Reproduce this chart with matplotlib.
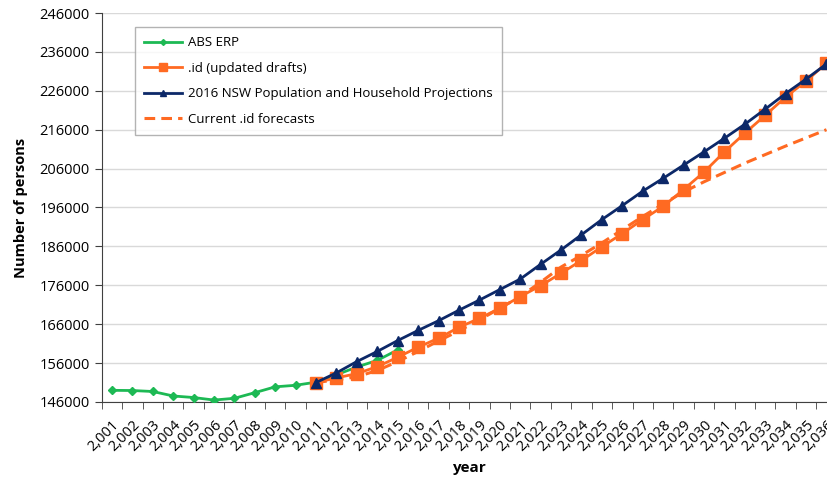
import numpy as np
import matplotlib
matplotlib.use('Agg')
import matplotlib.pyplot as plt
from matplotlib.ticker import FixedLocator

plt.rcParams['font.family'] = ['Open Sans', 'DejaVu Sans']

# Data
years = list(range(2001, 2037))
year_labels = ['{:,}'.format(y) for y in years]

abs_erp = [149000, 148950, 148700, 147550, 147150, 146500, 146950, 148400,
           149900, 150300, 151100, 153000, 155000, 156700, 159400]

id_drafts = [151000, 152200, 153300, 155100, 157500, 160100, 162400, 165200,
             167500, 170100, 173100, 175900, 179100, 182400, 185900, 189300,
             192900, 196300, 200600, 205100, 210300, 215100, 219700, 224400,
             228500, 233100]

nsw_2016 = [151000, 153500, 156400, 159000, 161800, 164400, 166900, 169600,
            172200, 174900, 177600, 181400, 185100, 189000, 192900, 196500,
            200200, 203500, 206900, 210300, 213800, 217400, 221300, 225300,
            229000, 232900]

id_current = [151000, 151700, 152500, 154100, 156400, 159000, 161700, 164300,
              167100, 170100, 173100, 176800, 180700, 183700, 186900, 190300,
              193700, 196900, 200000, 202600, 205000, 207400, 209600, 211800,
              213900, 216000]

x_all = np.arange(len(years))
x_abs = x_all[:len(abs_erp)]
x_fc = x_all[10:]

# Figure
fig = plt.figure(figsize=(8.28, 4.78), dpi=100)
ax = fig.add_axes([0.1228, 0.159, 0.8877, 0.8138])

ax.plot(x_abs, abs_erp, color='#1DB954', lw=2, marker='D', ms=4,
        label='ABS ERP', zorder=3)
ax.plot(x_fc, id_drafts, color='#FF6A22', lw=2, marker='s', ms=8,
        label='.id (updated drafts)', zorder=4)
ax.plot(x_fc, nsw_2016, color='#0C2868', lw=2, marker='^', ms=6.5,
        label='2016 NSW Population and Household Projections', zorder=5)
ax.plot(x_fc, id_current, color='#FF6A22', lw=2.2, ls=(0, (3.5, 2)),
        label='Current .id forecasts', zorder=3)

ax.set_xlim(-0.5, len(years) - 0.5)
ax.set_ylim(146000, 246000)
ax.set_yticks(np.arange(146000, 246001, 10000))
ax.yaxis.grid(True, color='#D9D9D9', lw=1)
ax.set_axisbelow(True)

ax.set_xticks(x_all)
ax.set_xticklabels(year_labels, rotation=45, ha='right', rotation_mode='anchor',
                   fontsize=10.5)
ax.tick_params(axis='x', length=0, pad=11)
ax.xaxis.set_minor_locator(FixedLocator(np.arange(-0.5, len(years), 1)))
ax.tick_params(axis='x', which='minor', length=5, color='#404040')
ax.tick_params(axis='y', length=5, color='#404040', labelsize=10.5)

for s in ['top', 'right']:
    ax.spines[s].set_visible(False)
ax.spines['left'].set_color('#404040')
ax.spines['bottom'].set_color('#404040')

ax.set_xlabel('year', fontweight='bold', fontsize=11, labelpad=5)
ax.set_ylabel('Number of persons', fontweight='bold', fontsize=10.5, labelpad=8)

leg = ax.legend(loc='upper left', bbox_to_anchor=(0.045, 0.964), fontsize=9.5,
                frameon=True, fancybox=False, edgecolor='#A0A0A0',
                handlelength=2.9, borderpad=0.7, labelspacing=0.95,
                handletextpad=0.4, borderaxespad=0, markerscale=0.75)
leg.get_frame().set_linewidth(1)

fig.savefig('out.png', dpi=100)
